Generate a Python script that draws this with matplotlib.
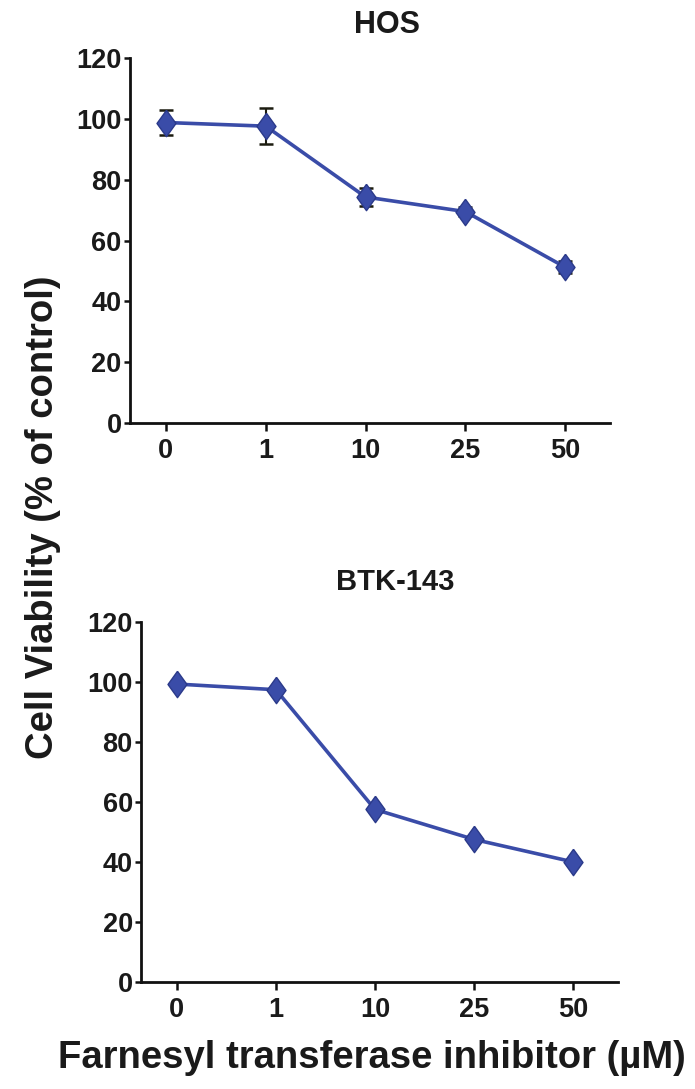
import matplotlib
matplotlib.use("Agg")
import matplotlib.pyplot as plt
import numpy as np

plt.rcParams["font.family"] = ["Liberation Sans", "DejaVu Sans"]
plt.rcParams["font.weight"] = "bold"

# Drug concentrations (µM) shown as evenly spaced categories
doses = ["0", "1", "10", "25", "50"]

# HOS cell viability (% of control) with error bars
hos_mean = [98.8, 97.6, 74.3, 69.5, 51.2]
hos_err = [4.1, 6.0, 3.1, 1.5, 2.0]

# BTK-143 cell viability (% of control)
btk_mean = [99.3, 97.4, 57.5, 47.5, 40.0]

y_ticks = [0, 20, 40, 60, 80, 100, 120]

line_color = "#3a4ca8"
edge_color = "#2b3a8a"
text_color = "#1a1a1a"

# Slightly wide diamond marker
diamond = [(0, 1), (0.72, 0), (0, -1), (-0.72, 0), (0, 1)]

fig = plt.figure(figsize=(6.95, 10.89), dpi=100)

ax_top = fig.add_axes([0.187, 0.6116, 0.691, 0.3351])
ax_bot = fig.add_axes([0.203, 0.0983, 0.686, 0.3306])


def style_axis(ax):
    for side in ("top", "right"):
        ax.spines[side].set_visible(False)
    for side in ("left", "bottom"):
        ax.spines[side].set_linewidth(2.0)
        ax.spines[side].set_color("#111111")
    ax.set_ylim(0, 120)
    ax.set_xlim(-0.36, 4.45)
    ax.set_yticks(y_ticks)
    ax.set_yticklabels([str(t) for t in y_ticks])
    ax.set_xticks(range(len(doses)))
    ax.set_xticklabels(doses)
    ax.tick_params(axis="y", direction="out", length=4, width=1.8,
                   pad=2, labelsize=19.5, colors="#111111", labelcolor=text_color)
    ax.tick_params(axis="x", direction="out", length=6, width=1.8,
                   pad=5, labelsize=19.5, colors="#111111", labelcolor=text_color)
    for lab in ax.get_xticklabels() + ax.get_yticklabels():
        lab.set_fontweight("bold")


x = np.arange(len(doses))

ax_top.errorbar(x, hos_mean, yerr=hos_err, fmt="none", ecolor="#1c1c10",
                elinewidth=1.5, capsize=5, capthick=1.8, zorder=2)
ax_top.plot(x, hos_mean, color=line_color, lw=2.6, marker=diamond, ms=19,
            markerfacecolor=line_color, markeredgecolor=edge_color,
            markeredgewidth=1.0, zorder=3, clip_on=False)
style_axis(ax_top)

ax_bot.plot(x, btk_mean, color=line_color, lw=2.6, marker=diamond, ms=19,
            markerfacecolor=line_color, markeredgecolor=edge_color,
            markeredgewidth=1.0, zorder=3, clip_on=False)
style_axis(ax_bot)

fig.text(0.557, 0.977, "HOS", ha="center", va="center",
         fontsize=22, fontweight="bold", color=text_color)
fig.text(0.568, 0.4656, "BTK-143", ha="center", va="center",
         fontsize=21, fontweight="bold", color=text_color)
fig.text(0.062, 0.525, "Cell Viability (% of control)", ha="center",
         va="center", rotation=90, fontsize=27.5, fontweight="bold",
         color=text_color)
fig.text(0.535, 0.0285, "Farnesyl transferase inhibitor (\u00b5M)",
         ha="center", va="center", fontsize=27.5, fontweight="bold",
         color=text_color)

fig.savefig("out.png", dpi=100, facecolor="white")
